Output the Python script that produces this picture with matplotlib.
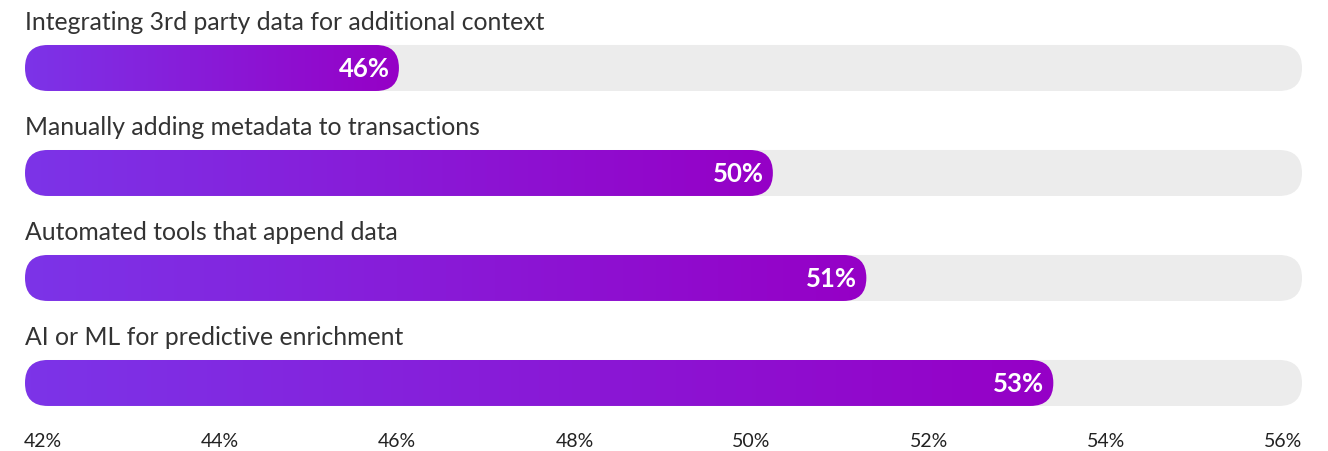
import numpy as np
import matplotlib.pyplot as plt
from matplotlib.patches import FancyBboxPatch
from matplotlib.colors import LinearSegmentedColormap

plt.rcParams['font.family'] = ['Lato', 'DejaVu Sans']

categories = [
    "Integrating 3rd party data for additional context",
    "Manually adding metadata to transactions",
    "Automated tools that append data",
    "AI or ML for predictive enrichment",
]
values = [46, 50, 51, 53]
ticks = [42, 44, 46, 48, 50, 52, 54, 56]
tick_labels = [f"{t}%" for t in ticks]

W, H = 1328, 452
x_lo, x_hi = 42, 55.66
y_top, y_bot = -0.657, 3.648

grad = LinearSegmentedColormap.from_list("bar", ["#7C34E8", "#9600C6"])
track_color = "#ECECEC"
text_color = "#333333"

fig = plt.figure(figsize=(W / 100, H / 100), dpi=100)
ax = fig.add_axes([25 / W, 0, 1277 / W, 1])

# pixel sizes of one data unit, used to keep the bar ends round
px_x = 1277 / (x_hi - x_lo)
px_y = H / (y_bot - y_top)
bar_h = 46 / px_y
rad = bar_h / 2 * px_y / px_x
m_aspect = px_x / px_y


def pill(x0, x1, y, **kw):
    p = FancyBboxPatch((x0, y - bar_h / 2), x1 - x0, bar_h,
                       boxstyle=f"round,pad=0,rounding_size={rad}",
                       mutation_aspect=m_aspect, linewidth=0, **kw)
    ax.add_patch(p)
    return p


for i, (cat, v) in enumerate(zip(categories, values)):
    pill(x_lo, x_hi, i, facecolor=track_color, zorder=1)
    bar = pill(x_lo, v, i, facecolor="none", zorder=1)
    im = ax.imshow(np.linspace(0, 1, 256).reshape(1, -1), cmap=grad,
                   extent=[x_lo, v, i + bar_h / 2, i - bar_h / 2],
                   aspect="auto", interpolation="bilinear", zorder=2)
    im.set_clip_path(bar)
    ax.text(x_lo, i - 0.44, cat, ha="left", va="center",
            fontsize=17.8, color=text_color)
    ax.annotate(f"{v}%", xy=(v, i), xytext=(-9, 0), textcoords="offset pixels",
                ha="right", va="center", color="white", zorder=3,
                fontsize=18.5, fontweight="bold")

ax.set_xlim(x_lo, x_hi)
ax.set_ylim(y_bot, y_top)
ax.axis("off")

# percentage scale along the bottom
tax = fig.add_axes([43 / W, (H - 430) / H, 1240 / W, 0.001])
tax.set_xlim(ticks[0], ticks[-1])
tax.set_xticks(ticks, tick_labels)
tax.set_yticks([])
tax.tick_params(axis="x", length=0, pad=2, labelsize=14, labelcolor="#222222")
for s in tax.spines.values():
    s.set_visible(False)
tax.patch.set_visible(False)

fig.savefig("out.png", dpi=100)
